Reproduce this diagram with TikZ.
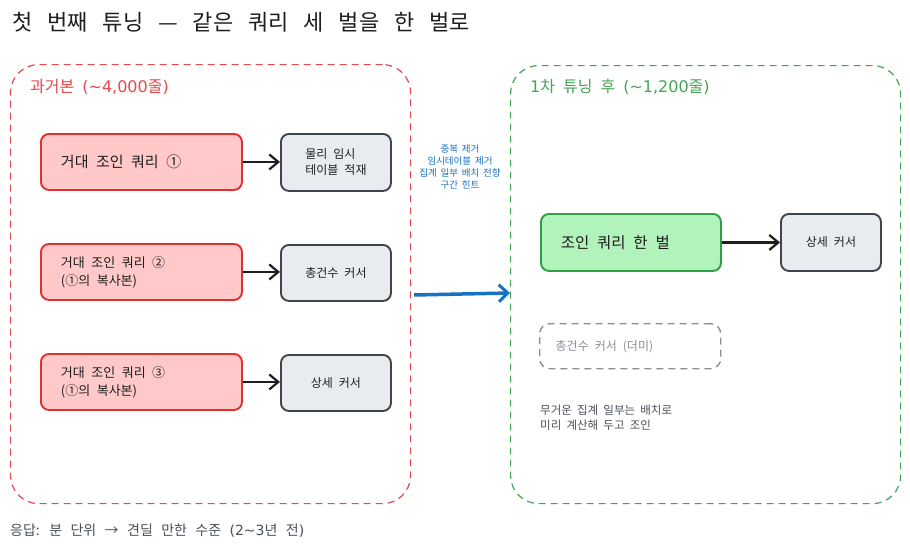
\documentclass[tikz,border=0pt]{standalone}
\usepackage{fontspec}
\setmainfont{Noto Sans CJK KR}
\newfontfamily\lat{DejaVu Sans}
\usetikzlibrary{arrows.meta}
\definecolor{redS}{HTML}{E03131}
\definecolor{redF}{HTML}{FFC9C9}
\definecolor{redD}{HTML}{E5484D}
\definecolor{grayS}{HTML}{3F454C}
\definecolor{grayF}{HTML}{E9ECEF}
\definecolor{greenS}{HTML}{2F9E44}
\definecolor{greenF}{HTML}{B2F2BB}
\definecolor{greenD}{HTML}{45A456}
\definecolor{blueA}{HTML}{1971C2}
\definecolor{dimG}{HTML}{8A9096}
\definecolor{txt}{HTML}{1E1E1E}
\definecolor{memoC}{HTML}{495057}
\newcommand\fsz[3]{\fontsize{#1}{#2}\selectfont\spaceskip=#3em plus 0.1em minus 0.05em\relax}
\newcommand\wsp{\spaceskip=0.5em plus 0.1em minus 0.05em\relax}
\begin{document}
\begin{tikzpicture}[x=1pt,y=-1pt,
  container/.style={draw, dash pattern=on 7pt off 5pt, line width=1.2pt, rounded corners=28pt, anchor=north west, inner sep=0pt},
  redbox/.style={draw=redS, fill=redF, line width=1.9pt, rounded corners=8pt, anchor=north west, inner ysep=0pt, inner xsep=20pt, align=left, font={\fsz{13}{18}{0.5}}, text=txt},
  graybox/.style={draw=grayS, fill=grayF, line width=1.9pt, rounded corners=8pt, anchor=north west, inner sep=0pt, minimum width=110pt, align=left, font={\fsz{12}{16}{0.5}}, text=txt},
  conn/.style={draw=txt, line width=2.2pt, -{Straight Barb[length=9pt,width=15pt,line width=2.2pt]}},
  lbl/.style={anchor=west, inner sep=0pt, align=left},
]
\useasboundingbox (0,0) rectangle (910,554);
\fill[white] (0,0) rectangle (910,554);

% title
\node[lbl, font={\fsz{22}{24}{0.68}}, text=txt] (title) at (12,22) {첫 번째 튜닝 — 같은 쿼리 세 벌을 한 벌로};

% containers
\node[container, draw=redD, minimum width=400pt, minimum height=439pt] (old) at (10,64) {};
\node[container, draw=greenD, minimum width=390pt, minimum height=438pt] (new) at (510,65) {};
\node[lbl, text=redD, font={\fsz{16}{17}{0.5}}] (oldl) at (30,87) {과거본 {\lat(\textasciitilde4,000}줄{\lat)}};
\node[lbl, text=greenD, font={\fsz{16}{17}{0.5}}] (newl) at (530,87) {{\lat 1}차 튜닝 후 {\lat(\textasciitilde1,200}줄{\lat)}};

% left side
\node[redbox, minimum width=201pt, minimum height=56pt, text width=161pt, font={\fsz{15}{18}{0.5}}] (q1) at (40,133) {\wsp 거대 조인 쿼리 ①};
\node[graybox, minimum height=57pt] (g1) at (280,133) {물리 임시\\테이블 적재};
\node[redbox, minimum width=201pt, minimum height=56pt, text width=161pt] (q2) at (40,243) {\wsp 거대 조인 쿼리 ②\\(①의 복사본)};
\node[graybox, minimum height=56pt] (g2) at (280,244) {총건수 커서};
\node[redbox, minimum width=201pt, minimum height=56pt, text width=161pt] (q3) at (40,353) {\wsp 거대 조인 쿼리 ③\\(①의 복사본)};
\node[graybox, minimum height=56pt] (g3) at (280,354) {상세 커서};
\draw[conn] (q1.east) -- (g1.west |- q1.east);
\draw[conn] (q2.east) -- (g2.west |- q2.east);
\draw[conn] (q3.east) -- (g3.west |- q3.east);

% middle
\node[text=blueA, font={\fsz{9.5}{12}{0.4}}, align=center, inner sep=0pt] (notes) at (460,167) {중복 제거\\임시테이블 제거\\집계 일부 배치 전향\\구간 힌트};
\coordinate (ms) at (414,295);
\draw[blueA, line width=3.5pt, -{Straight Barb[length=9pt,width=17pt,line width=3pt]}] (ms) -- (new.west |- 0,293);

% right side
\node[draw=greenS, fill=greenF, line width=1.9pt, rounded corners=8pt, anchor=north west, inner ysep=0pt, inner xsep=20pt, align=left, text width=140pt, minimum width=180pt, minimum height=57pt, font={\fsz{15.5}{18}{0.5}}, text=txt] (gq) at (540,213) {\wsp 조인 쿼리 한 벌};
\node[graybox, minimum width=100pt, minimum height=57pt] (g4) at (780,213) {상세 커서};
\draw[conn] (gq.east) -- (g4.west |- gq.east);
\node[draw=dimG, dash pattern=on 7pt off 5pt, line width=1.4pt, rounded corners=10pt, anchor=north west, inner ysep=0pt, inner xsep=16pt, text width=149pt, minimum width=181pt, minimum height=45pt, align=left, text=dimG, font={\fsz{12}{14}{0.5}}] (dummy) at (539,323) {\wsp 총건수 커서 (더미)};
\node[lbl, text=memoC, font={\fsz{11.5}{15}{0.45}}] (memo) at (540,418) {무거운 집계 일부는 배치로\\미리 계산해 두고 조인};

% footer
\node[lbl, text=memoC, font={\fsz{14}{15}{0.6}}] (foot) at (10,531) {응답: 분 단위 → 견딜 만한 수준 {\lat(2\textasciitilde3}년 전{\lat)}};
\end{tikzpicture}
\end{document}
